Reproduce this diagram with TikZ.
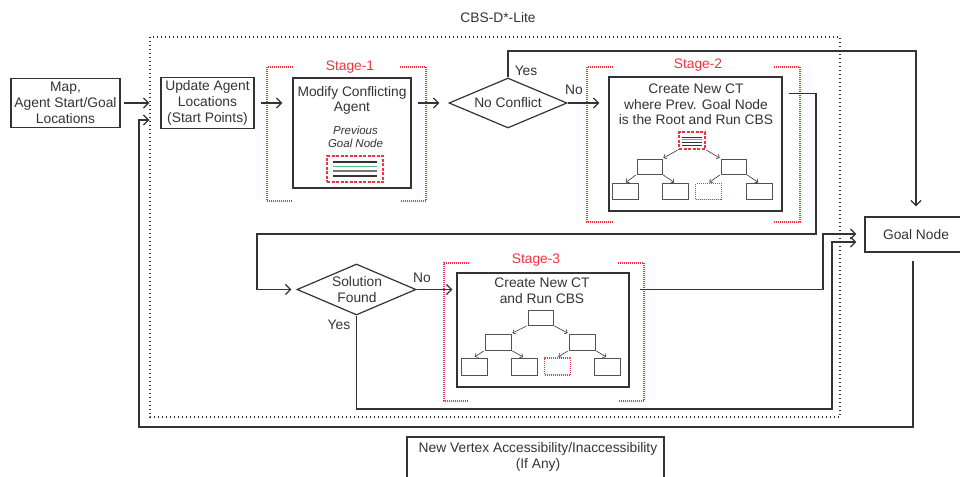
\documentclass[tikz,border=0pt]{standalone}
\usepackage{fontspec}
\setmainfont{Liberation Sans}
\usetikzlibrary{arrows.meta,calc,shapes.geometric}

\definecolor{ink}{HTML}{333333}
\definecolor{stagered}{HTML}{EE3344}
\definecolor{rulegreen}{HTML}{55BB77}
\definecolor{rulegray}{HTML}{777777}

\tikzset{
  every node/.style={font=\fontsize{13.8}{16}\selectfont, text=ink},
  box/.style={draw=ink, line width=1.2pt, inner sep=0pt, rectangle, align=center},
  decision/.style={draw=ink, line width=1.2pt, inner sep=0pt, diamond},
  flow/.style={draw=ink, line width=1.3pt, -{Straight Barb[length=5pt,width=10pt]}},
  outerframe/.style={draw=ink, line width=1.1pt, dash pattern=on 1.4pt off 2.6pt},
  stagebr/.style={draw=stagered, line width=1.2pt, dash pattern=on 1pt off 1pt},
  stagelabel/.style={text=stagered},
  tag/.style={inner sep=0pt},
  rootbox/.style={draw=stagered, line width=1.3pt, dash pattern=on 3pt off 1.5pt, inner sep=0pt},
  tbox/.style={draw=ink!85, line width=1pt, inner sep=0pt, minimum width=26pt, minimum height=16pt},
  redtbox/.style={draw=stagered, line width=1.2pt, dash pattern=on 1pt off 1pt, inner sep=0pt, minimum width=26pt, minimum height=16pt},
  treearrow/.style={draw=ink, line width=0.6pt, -{Straight Barb[length=2.5pt,width=5pt]}, shorten <=1pt, shorten >=1pt},
  stripe/.style={line width=1.1pt},
}

\begin{document}
\begin{tikzpicture}[x=1pt,y=-1pt]
\useasboundingbox (0,0) rectangle (960,476);
\clip (0,0) rectangle (960,476);

% outer frame of the planner
\draw[outerframe] (150,37) rectangle (840,417);
\node[tag] (title) at (498,18) {CBS-D*-Lite};

% main boxes
\node[box, minimum width=109pt, minimum height=49pt] (map) at (65.5,103) {Map,\\Agent Start/Goal\\Locations};
\node[box, minimum width=93pt, minimum height=51pt] (update) at (207.5,103) {Update Agent\\Locations\\(Start Points)};
\node[box, minimum width=118pt, minimum height=110pt] (modify) at (352,133) {};
\node[tag, align=center, font=\fontsize{13.8}{15}\selectfont] (modifytxt) at (352,100.5) {Modify Conflicting\\Agent};
\node[tag, align=center, font=\fontsize{11.5}{13}\selectfont\itshape] (prevtxt) at (355.5,136.5) {Previous\\Goal Node};
\node[rootbox, minimum width=56pt, minimum height=26pt] (prevgoal) at (355,169) {};
\draw[stripe, ink]       ($(prevgoal.center)+(-22,-7)$) -- ($(prevgoal.center)+(22,-7)$);
\draw[stripe, rulegreen] ($(prevgoal.center)+(-22,-2.3)$) -- ($(prevgoal.center)+(22,-2.3)$);
\draw[stripe, rulegray]  ($(prevgoal.center)+(-22,2)$) -- ($(prevgoal.center)+(22,2)$);
\draw[stripe, ink]       ($(prevgoal.center)+(-22,7)$) -- ($(prevgoal.center)+(22,7)$);

\node[decision, minimum width=118pt, minimum height=50pt] (nc) at (508,103) {};
\node[tag] (nctxt) at (508,103) {No Conflict};

\node[box, minimum width=173pt, minimum height=134pt] (s2) at (695.5,144) {};
\node[tag, align=center, font=\fontsize{13.8}{15.5}\selectfont] (s2txt) at (696,104.5) {Create New CT\\where Prev. Goal Node\\is the Root and Run CBS};

\node[box, minimum width=102pt, minimum height=35pt] (goal) at (916,234.5) {Goal Node};

\node[decision, minimum width=119pt, minimum height=51pt] (sf) at (356.5,289.5) {};
\node[tag, align=center] (sftxt) at (357,290) {Solution\\Found};

\node[box, minimum width=172pt, minimum height=114pt] (s3) at (543,330) {};
\node[tag, align=center, font=\fontsize{13.8}{15.5}\selectfont] (s3txt) at (542,290.5) {Create New CT\\and Run CBS};

\node[box, minimum width=257pt, minimum height=53pt] (vertex) at (535.5,463.5) {};
\node[tag, align=center] (vertextxt) at (538,457) {New Vertex Accessibility/Inaccessibility\\(If Any)};

% stage brackets
\draw[stagebr] (293,67) -| (267,201) -- (293,201);
\draw[stagebr] (400,67) -| (426,201) -- (400,201);
\node[tag, stagelabel] (st1) at (350,67) {Stage-1};
\draw[stagebr] (613,67) -| (587,222) -- (613,222);
\draw[stagebr] (774,67) -| (800,222) -- (774,222);
\node[tag, stagelabel] (st2) at (698,65) {Stage-2};
\draw[stagebr] (469,263) -| (444,401) -- (469,401);
\draw[stagebr] (618,263) -| (644,401) -- (618,401);
\node[tag, stagelabel] (st3) at (536,260) {Stage-3};

% conflict tree of stage 2
\node[rootbox, minimum width=26pt, minimum height=17pt] (t2r) at (692,140.5) {};
\draw[line width=0.9pt, ink]       ($(t2r.center)+(-10,-3.2)$) -- ($(t2r.center)+(10,-3.2)$);
\draw[line width=0.9pt, rulegreen] ($(t2r.center)+(-10,-0.6)$) -- ($(t2r.center)+(10,-0.6)$);
\draw[line width=0.9pt, ink]       ($(t2r.center)+(-10,2)$) -- ($(t2r.center)+(10,2)$);
\draw[line width=0.9pt, ink]       ($(t2r.center)+(-10,4.6)$) -- ($(t2r.center)+(10,4.6)$);
\node[tbox, minimum width=25pt, minimum height=15pt] (t2a) at (649.5,166.5) {};
\node[tbox, minimum width=25pt, minimum height=15pt] (t2b) at (733.5,166.5) {};
\node[tbox] (t2c) at (625,191.5) {};
\node[tbox] (t2d) at (675,191.5) {};
\node[redtbox] (t2e) at (708.5,191.5) {};
\node[tbox] (t2f) at (759,191.5) {};
\draw[treearrow] (t2r.south west) -- (t2a.north east);
\draw[treearrow] (t2r.south east) -- (t2b.north west);
\draw[treearrow] (t2a.south west) -- (t2c.north);
\draw[treearrow] (t2a.south east) -- (t2d.north);
\draw[treearrow] (t2b.south west) -- (t2e.north);
\draw[treearrow] (t2b.south east) -- (t2f.north);

% conflict tree of stage 3
\node[tbox, minimum width=25pt, minimum height=15pt] (t3r) at (540.5,317.5) {};
\node[tbox] (t3a) at (498,342) {};
\node[tbox] (t3b) at (582,342) {};
\node[tbox, minimum height=17pt] (t3c) at (474,366.5) {};
\node[tbox, minimum height=17pt] (t3d) at (524,366.5) {};
\node[redtbox, minimum height=17pt] (t3e) at (557.5,366.5) {};
\node[tbox, minimum height=17pt] (t3f) at (607,366.5) {};
\draw[treearrow] (t3r.south west) -- (t3a.north east);
\draw[treearrow] (t3r.south east) -- (t3b.north west);
\draw[treearrow] (t3a.south west) -- (t3c.north);
\draw[treearrow] (t3a.south east) -- (t3d.north);
\draw[treearrow] (t3b.south west) -- (t3e.north);
\draw[treearrow] (t3b.south east) -- (t3f.north);

% routing corners
\coordinate (yestop) at (509,51);
\coordinate (s2down) at (816,234);
\coordinate (s2left) at (257,234);
\coordinate (s3up) at (823,234);
\coordinate (sfyes) at (832,409);
\coordinate (loopcorner) at (139,427);

% connectors
\draw[flow, shorten <=3pt, shorten >=11pt] (map.east) -- (update.west);
\draw[flow, shorten <=6pt, shorten >=10pt] (update.east) -- (update.east -| modify.west);
\draw[flow, shorten <=6pt, shorten >=9pt] (nc.west -| modify.east) -- (nc.west);
\draw[flow, shorten >=9pt] (nc.east) -- (nc.east -| s2.west);
\draw[flow, shorten >=10pt] (nc.north) |- (yestop) -| (goal.north);
\draw[flow, shorten <=6pt, shorten >=5pt] ([yshift=-17pt]s2.north east) -| (s2down) -- (s2left) |- (sf.west);
\draw[flow, shorten >=4pt] (sf.east) -- (sf.east -| s3.west);
\draw[flow, shorten <=10pt, shorten >=8pt] (sf.east -| s3.east) -| (s3up) -- (s3up -| goal.west);
\draw[flow, shorten >=8pt] (sf.south) |- (sfyes) |- ([yshift=-7.5pt]goal.west);
\draw[flow, shorten <=8pt, shorten >=11pt] ([xshift=-3pt]goal.south) |- (loopcorner) |- ([yshift=-17pt]update.west);

% branch labels
\node[tag] (ncyes) at (526,71) {Yes};
\node[tag] (ncno) at (574,90) {No};
\node[tag] (sfno) at (422,278) {No};
\node[tag] (sfyeslbl) at (339,325) {Yes};
\end{tikzpicture}
\end{document}
